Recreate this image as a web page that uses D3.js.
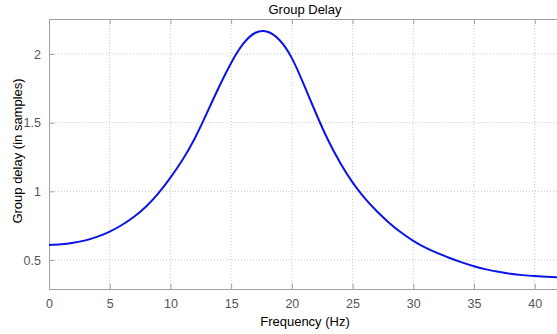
<!DOCTYPE html>
<html>
<head>
<meta charset="utf-8">
<script src="https://cdn.jsdelivr.net/npm/d3@7"></script>
<style>
  body { margin: 0; background: #fff; }
  text { font-family: "Liberation Sans", Arial, sans-serif; }
</style>
</head>
<body>
<svg id="chart" width="557" height="334"></svg>
<script>
// values
const freq = [0, 1, 2, 3, 4, 5, 6, 7, 8, 9, 10, 11, 12, 13, 14, 15, 16, 17, 18, 19, 20, 21, 22, 23, 24, 25, 26, 27, 28, 29, 30, 31, 32, 33, 34, 35, 36, 37, 38, 39, 40, 41, 42]
const delay = [0.610, 0.614, 0.625, 0.643, 0.670, 0.707, 0.755, 0.815, 0.890, 0.985, 1.100, 1.230, 1.385, 1.570, 1.760, 1.935, 2.075, 2.155, 2.162, 2.100, 1.970, 1.775, 1.565, 1.370, 1.205, 1.065, 0.950, 0.855, 0.772, 0.700, 0.640, 0.590, 0.550, 0.515, 0.483, 0.455, 0.432, 0.414, 0.400, 0.390, 0.383, 0.378, 0.375]
const xTicks = [0, 5, 10, 15, 20, 25, 30, 35, 40]
const yTicks = [0.5, 1, 1.5, 2]

const margin = { left: 49, top: 19, right: 559, bottom: 289 }
const svg = d3.select('#chart')

const x = d3.scaleLinear().domain([0, 42]).range([margin.left, margin.right])
const y = d3.scaleLinear().domain([0.289, 2.255]).range([margin.bottom, margin.top])

// grid
const grid = svg.append('g')
grid.selectAll('line.gx')
  .data(xTicks.filter(d => d > 0))
  .enter().append('line')
  .attr('x1', d => x(d)).attr('x2', d => x(d))
  .attr('y1', margin.top).attr('y2', margin.bottom)
  .style('stroke', '#c8c8c8').style('stroke-dasharray', '1,2')
grid.selectAll('line.gy')
  .data(yTicks)
  .enter().append('line')
  .attr('x1', margin.left).attr('x2', margin.right)
  .attr('y1', d => y(d)).attr('y2', d => y(d))
  .style('stroke', '#c8c8c8').style('stroke-dasharray', '1,2')

// axes (ticks inside, MATLAB style)
const xAxis = d3.axisBottom(x).tickValues(xTicks).tickSize(-5).tickPadding(10).tickFormat(d3.format('d'))
const yAxis = d3.axisLeft(y).tickValues(yTicks).tickSize(-5).tickPadding(8).tickFormat(d => d)
const xTop = d3.axisTop(x).tickValues(xTicks).tickSize(-5).tickFormat('')

function styleAxis (g) {
  g.select('.domain').style('stroke', '#a0a0a0')
  g.selectAll('.tick line').style('stroke', '#a0a0a0')
  g.selectAll('.tick text').style('fill', '#555').style('font-size', '12.5px')
}

svg.append('g').attr('transform', `translate(0,${margin.bottom})`).call(xAxis).call(styleAxis)
svg.append('g').attr('transform', `translate(${margin.left},0)`).call(yAxis).call(styleAxis)
svg.append('g').attr('transform', `translate(0,${margin.top})`).call(xTop).call(styleAxis)

// curve
const line = d3.line()
  .x((d, i) => x(freq[i]))
  .y(d => y(d))
  .curve(d3.curveNatural)

svg.append('path')
  .datum(delay)
  .attr('d', line)
  .style('fill', 'none')
  .style('stroke', '#0a14e6')
  .style('stroke-width', '2px')

// labels
svg.append('text')
  .attr('x', 305).attr('y', 14)
  .attr('text-anchor', 'middle')
  .style('font-size', '13px')
  .text('Group Delay')

svg.append('text')
  .attr('x', 305).attr('y', 326)
  .attr('text-anchor', 'middle')
  .style('font-size', '13px')
  .text('Frequency (Hz)')

svg.append('text')
  .attr('transform', 'translate(22,151) rotate(-90)')
  .attr('text-anchor', 'middle')
  .style('font-size', '13px')
  .text('Group delay (in samples)')
</script>
</body>
</html>
